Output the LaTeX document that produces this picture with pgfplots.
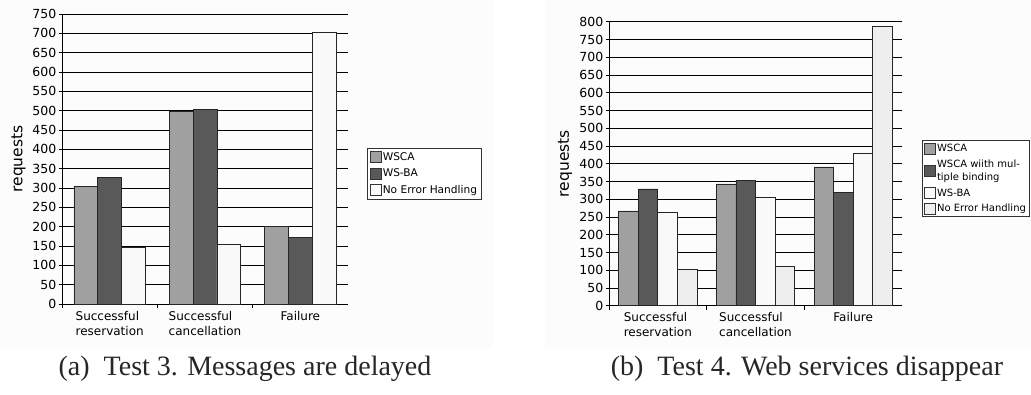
\documentclass[border=0pt]{standalone}
\usepackage{pgfplots}
\pgfplotsset{compat=1.18}
\usepackage{fontspec}
\setmainfont{DejaVu Sans}
\newfontfamily\capfont{Liberation Serif}
\definecolor{cA}{RGB}{160,160,160}
\definecolor{cB}{RGB}{89,89,89}
\definecolor{cC}{RGB}{249,249,249}
\definecolor{cD}{RGB}{238,238,238}
\definecolor{bg}{RGB}{252,252,252}
\pgfplotsset{
  common/.style={
    scale only axis,
    ybar=0pt,
    ymin=0,
    xmin=-0.5, xmax=2.5,
    xtick={0,1,2},
    xticklabels={{Successful\\reservation},{Successful\\cancellation},{Failure}},
    minor xtick={-0.5,0.5,1.5},
    major x tick style={draw=none},
    minor x tick style={black, line width=0.8pt},
    minor tick length=4pt,
    tick align=outside,
    ytick style={black, line width=0.8pt},
    major tick length=3.5pt,
    axis x line*=bottom,
    axis y line*=left,
    axis line style={black, line width=1pt, -},
    ymajorgrids,
    grid style={black, line width=0.8pt},
    ylabel={requests},
    ylabel style={font=\fontsize{15.5}{18}\selectfont, anchor=center},
    /pgf/number format/assume math mode=true,
    yticklabel style={font=\fontsize{12.5}{15}\selectfont, inner sep=2pt},
    xticklabel style={font=\fontsize{12}{15}\selectfont, align=left},
    every axis plot/.append style={draw=black!85, line width=0.7pt},
    legend image code/.code={\draw[##1, draw=black!80, line width=0.6pt] (0pt,-5.5pt) rectangle (11pt,5.5pt);},
    legend cell align=left,
  }
}
\begin{document}
\begin{tikzpicture}[x=1pt,y=1pt]
\path[use as bounding box] (0,0) rectangle (1031,394);
\fill[bg] (0,46) rectangle (493,394);
\fill[bg] (545,46) rectangle (1031,394);

\begin{axis}[common,
  at={(62pt,90pt)}, anchor=south west,
  width=286pt, height=290pt,
  ymax=750, ytick={0,50,...,750},
  bar width=0.25,
  ylabel style={at={(axis description cs:-0.152,0.5)}},
  legend style={at={(axis description cs:1.066,0.538)}, anchor=north west,
    draw=black!80, line width=0.6pt, fill=white, inner sep=2.5pt,
    font=\fontsize{10.6}{12.5}\selectfont, row sep=4.2pt,
    nodes={inner sep=1.5pt}},
]
\addplot[fill=cA] coordinates {(0,304) (1,497) (2,200)};
\addplot[fill=cB] coordinates {(0,327) (1,503) (2,172)};
\addplot[fill=cC] coordinates {(0,146) (1,153) (2,703)};
\legend{WSCA, WS-BA, No Error Handling}
\end{axis}

\begin{axis}[common,
  at={(609pt,88.3pt)}, anchor=south west,
  width=293pt, height=284pt,
  ymax=800, ytick={0,50,...,800},
  bar width=0.2,
  ylabel style={at={(axis description cs:-0.150,0.5)}},
  legend style={at={(axis description cs:1.067,0.583)}, anchor=north west,
    draw=black!80, line width=0.6pt, fill=white, inner sep=2pt,
    font=\fontsize{10}{13.5}\selectfont, row sep=3.6pt,
    nodes={inner sep=1.5pt}, cells={align=left}},
]
\addplot[fill=cA] coordinates {(0,267) (1,343) (2,391)};
\addplot[fill=cB] coordinates {(0,329) (1,353) (2,318)};
\addplot[fill=cC] coordinates {(0,263) (1,305) (2,429)};
\addplot[fill=cD] coordinates {(0,103) (1,111) (2,786)};
\legend{WSCA, {WSCA wiith mul-\\tiple binding}, WS-BA, No Error Handling}
\end{axis}

\node[font=\capfont\fontsize{28}{32}\selectfont, text=black!85] at (245,25) {(a)\ \ Test 3. Messages are delayed};
\node[font=\capfont\fontsize{28}{32}\selectfont, text=black!85] at (807,25) {(b)\ \ Test 4. Web services disappear};
\end{tikzpicture}
\end{document}
